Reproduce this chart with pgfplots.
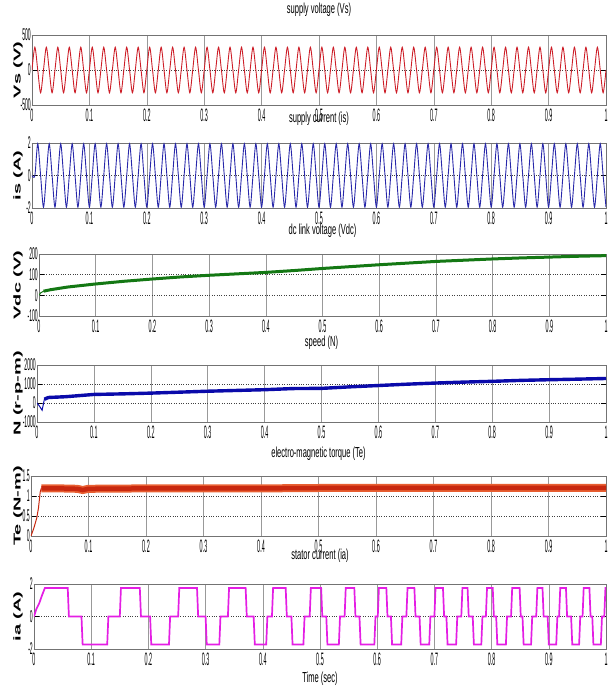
\documentclass[border=0pt]{standalone}
\usepackage{fontspec}
\setmainfont{Liberation Sans}
\newfontfamily\ticknarrow[FakeStretch=0.3]{Liberation Sans}
\newfontfamily\titlenarrow[FakeStretch=0.52]{Liberation Sans}
\newfontfamily\ylabwide[FakeStretch=2.0]{Liberation Sans}
\usepackage{pgfplots}
\pgfplotsset{compat=1.18}
\definecolor{cvolt}{RGB}{205,30,40}
\definecolor{ccurr}{RGB}{40,40,170}
\definecolor{cdc}{RGB}{20,120,20}
\definecolor{cspd}{RGB}{10,10,170}
\definecolor{ctq}{RGB}{200,40,15}
\definecolor{ctqL}{RGB}{232,95,50}
\definecolor{cia}{RGB}{228,30,228}
\pgfplotsset{
  panel/.style={
    scale only axis, xmin=0, xmax=1,
    xtick={0,0.1,0.2,0.3,0.4,0.5,0.6,0.7,0.8,0.9,1},
    xticklabels={0,0.1,0.2,0.3,0.4,0.5,0.6,0.7,0.8,0.9,1},
    xmajorgrids, ymajorgrids,
    x grid style={black!40, line width=0.6pt},
    y grid style={black!75, dotted, line width=0.7pt},
    x axis line style={black, line width=1.2pt},
    y axis line style={black!55, line width=0.5pt},
    xtick style={draw=none},
    ytick style={black, line width=0.8pt},
    major tick length=5pt, tick align=inside,
    x tick label style={font=\ticknarrow\fontsize{18}{18}\selectfont, inner sep=1pt, yshift=-3pt},
    y tick label style={font=\ticknarrow\fontsize{17}{17}\selectfont, inner sep=1pt},
    title style={at={(0.5,1)}, anchor=base, font=\titlenarrow\fontsize{14.5}{14.5}\selectfont},
    ylabel style={anchor=center, font=\ylabwide\bfseries\fontsize{10}{10}\selectfont},
  }
}
\begin{document}
\begin{tikzpicture}
\useasboundingbox (0pt,0pt) rectangle (613pt,686pt);
% ---------------- supply voltage
\begin{axis}[panel, at={(32pt,651pt)}, anchor=north west, width=574pt, height=70pt,
  ymin=-500, ymax=500, ytick={-500,0,500}, yticklabels={-500,0,500},
  title={supply voltage (Vs)}, title style={yshift=15pt},
  ylabel={Vs (V)}, ylabel style={at={(axis description cs:-0.0244,0.5)}}]
\addplot[cvolt, line width=0.9pt, smooth] coordinates {
(0,0)(0.005,325)(0.01,0)(0.015,-325)(0.02,0)(0.025,325)(0.03,0)(0.035,-325)(0.04,0)(0.045,325)(0.05,0)(0.055,-325)(0.06,0)(0.065,325)(0.07,0)(0.075,-325)(0.08,0)(0.085,325)(0.09,0)(0.095,-325)
(0.1,0)(0.105,325)(0.11,0)(0.115,-325)(0.12,0)(0.125,325)(0.13,0)(0.135,-325)(0.14,0)(0.145,325)(0.15,0)(0.155,-325)(0.16,0)(0.165,325)(0.17,0)(0.175,-325)(0.18,0)(0.185,325)(0.19,0)(0.195,-325)
(0.2,0)(0.205,325)(0.21,0)(0.215,-325)(0.22,0)(0.225,325)(0.23,0)(0.235,-325)(0.24,0)(0.245,325)(0.25,0)(0.255,-325)(0.26,0)(0.265,325)(0.27,0)(0.275,-325)(0.28,0)(0.285,325)(0.29,0)(0.295,-325)
(0.3,0)(0.305,325)(0.31,0)(0.315,-325)(0.32,0)(0.325,325)(0.33,0)(0.335,-325)(0.34,0)(0.345,325)(0.35,0)(0.355,-325)(0.36,0)(0.365,325)(0.37,0)(0.375,-325)(0.38,0)(0.385,325)(0.39,0)(0.395,-325)
(0.4,0)(0.405,325)(0.41,0)(0.415,-325)(0.42,0)(0.425,325)(0.43,0)(0.435,-325)(0.44,0)(0.445,325)(0.45,0)(0.455,-325)(0.46,0)(0.465,325)(0.47,0)(0.475,-325)(0.48,0)(0.485,325)(0.49,0)(0.495,-325)
(0.5,0)(0.505,325)(0.51,0)(0.515,-325)(0.52,0)(0.525,325)(0.53,0)(0.535,-325)(0.54,0)(0.545,325)(0.55,0)(0.555,-325)(0.56,0)(0.565,325)(0.57,0)(0.575,-325)(0.58,0)(0.585,325)(0.59,0)(0.595,-325)
(0.6,0)(0.605,325)(0.61,0)(0.615,-325)(0.62,0)(0.625,325)(0.63,0)(0.635,-325)(0.64,0)(0.645,325)(0.65,0)(0.655,-325)(0.66,0)(0.665,325)(0.67,0)(0.675,-325)(0.68,0)(0.685,325)(0.69,0)(0.695,-325)
(0.7,0)(0.705,325)(0.71,0)(0.715,-325)(0.72,0)(0.725,325)(0.73,0)(0.735,-325)(0.74,0)(0.745,325)(0.75,0)(0.755,-325)(0.76,0)(0.765,325)(0.77,0)(0.775,-325)(0.78,0)(0.785,325)(0.79,0)(0.795,-325)
(0.8,0)(0.805,325)(0.81,0)(0.815,-325)(0.82,0)(0.825,325)(0.83,0)(0.835,-325)(0.84,0)(0.845,325)(0.85,0)(0.855,-325)(0.86,0)(0.865,325)(0.87,0)(0.875,-325)(0.88,0)(0.885,325)(0.89,0)(0.895,-325)
(0.9,0)(0.905,325)(0.91,0)(0.915,-325)(0.92,0)(0.925,325)(0.93,0)(0.935,-325)(0.94,0)(0.945,325)(0.95,0)(0.955,-325)(0.96,0)(0.965,325)(0.97,0)(0.975,-325)(0.98,0)(0.985,325)(0.99,0)(0.995,-325)
(1,0)};
\end{axis}
% ---------------- supply current
\begin{axis}[panel, at={(32pt,543pt)}, anchor=north west, width=574pt, height=65pt,
  ymin=-2, ymax=2, ytick={-2,0,2}, yticklabels={-2,0,2},
  title={supply current (is)}, title style={yshift=14pt},
  ylabel={is (A)}, ylabel style={at={(axis description cs:-0.0244,0.5)}}]
\addplot[ccurr, line width=0.9pt, smooth] coordinates {
(0,0)(0.005,0)(0.01,1.95)(0.015,0)(0.02,-1.95)(0.025,0)(0.03,1.95)(0.035,0)(0.04,-1.95)(0.045,0)(0.05,1.95)(0.055,0)(0.06,-1.95)(0.065,0)(0.07,1.95)(0.075,0)(0.08,-1.95)(0.085,0)(0.09,1.95)(0.095,0)
(0.1,-1.95)(0.105,0)(0.11,1.95)(0.115,0)(0.12,-1.95)(0.125,0)(0.13,1.95)(0.135,0)(0.14,-1.95)(0.145,0)(0.15,1.95)(0.155,0)(0.16,-1.95)(0.165,0)(0.17,1.95)(0.175,0)(0.18,-1.95)(0.185,0)(0.19,1.95)(0.195,0)
(0.2,-1.95)(0.205,0)(0.21,1.95)(0.215,0)(0.22,-1.95)(0.225,0)(0.23,1.95)(0.235,0)(0.24,-1.95)(0.245,0)(0.25,1.95)(0.255,0)(0.26,-1.95)(0.265,0)(0.27,1.95)(0.275,0)(0.28,-1.95)(0.285,0)(0.29,1.95)(0.295,0)
(0.3,-1.95)(0.305,0)(0.31,1.95)(0.315,0)(0.32,-1.95)(0.325,0)(0.33,1.95)(0.335,0)(0.34,-1.95)(0.345,0)(0.35,1.95)(0.355,0)(0.36,-1.95)(0.365,0)(0.37,1.95)(0.375,0)(0.38,-1.95)(0.385,0)(0.39,1.95)(0.395,0)
(0.4,-1.95)(0.405,0)(0.41,1.95)(0.415,0)(0.42,-1.95)(0.425,0)(0.43,1.95)(0.435,0)(0.44,-1.95)(0.445,0)(0.45,1.95)(0.455,0)(0.46,-1.95)(0.465,0)(0.47,1.95)(0.475,0)(0.48,-1.95)(0.485,0)(0.49,1.95)(0.495,0)
(0.5,-1.95)(0.505,0)(0.51,1.95)(0.515,0)(0.52,-1.95)(0.525,0)(0.53,1.95)(0.535,0)(0.54,-1.95)(0.545,0)(0.55,1.95)(0.555,0)(0.56,-1.95)(0.565,0)(0.57,1.95)(0.575,0)(0.58,-1.95)(0.585,0)(0.59,1.95)(0.595,0)
(0.6,-1.95)(0.605,0)(0.61,1.95)(0.615,0)(0.62,-1.95)(0.625,0)(0.63,1.95)(0.635,0)(0.64,-1.95)(0.645,0)(0.65,1.95)(0.655,0)(0.66,-1.95)(0.665,0)(0.67,1.95)(0.675,0)(0.68,-1.95)(0.685,0)(0.69,1.95)(0.695,0)
(0.7,-1.95)(0.705,0)(0.71,1.95)(0.715,0)(0.72,-1.95)(0.725,0)(0.73,1.95)(0.735,0)(0.74,-1.95)(0.745,0)(0.75,1.95)(0.755,0)(0.76,-1.95)(0.765,0)(0.77,1.95)(0.775,0)(0.78,-1.95)(0.785,0)(0.79,1.95)(0.795,0)
(0.8,-1.95)(0.805,0)(0.81,1.95)(0.815,0)(0.82,-1.95)(0.825,0)(0.83,1.95)(0.835,0)(0.84,-1.95)(0.845,0)(0.85,1.95)(0.855,0)(0.86,-1.95)(0.865,0)(0.87,1.95)(0.875,0)(0.88,-1.95)(0.885,0)(0.89,1.95)(0.895,0)
(0.9,-1.95)(0.905,0)(0.91,1.95)(0.915,0)(0.92,-1.95)(0.925,0)(0.93,1.95)(0.935,0)(0.94,-1.95)(0.945,0)(0.95,1.95)(0.955,0)(0.96,-1.95)(0.965,0)(0.97,1.95)(0.975,0)(0.98,-1.95)(0.985,0)(0.99,1.95)(0.995,0)
(1,-1.95)};
\end{axis}
% ---------------- dc link voltage
\begin{axis}[panel, at={(39pt,432pt)}, anchor=north west, width=567pt, height=62pt,
  ymin=-100, ymax=200, ytick={-100,0,100,200}, yticklabels={-100,0,100,200},
  title={dc link voltage (Vdc)}, title style={yshift=13pt},
  ylabel={Vdc (V)}, ylabel style={at={(axis description cs:-0.037,0.5)}}]
\addplot[cdc, line width=1pt] coordinates {(0,0)(0.003,12)(0.008,20)(0.015,25)};
\addplot[cdc, line width=3pt] coordinates {
(0.008,20)(0.02,27)(0.05,40)(0.1,55)(0.15,68)(0.2,79)(0.25,89)(0.3,97)(0.35,104)(0.4,111)(0.45,120)(0.5,130)
(0.55,139)(0.6,148)(0.65,156)(0.7,164)(0.75,170)(0.8,176)(0.85,181)(0.9,185)(0.95,189)(1,192)};
\end{axis}
% ---------------- speed
\begin{axis}[panel, at={(37pt,321pt)}, anchor=north west, width=569pt, height=57pt,
  ymin=-1000, ymax=2000, ytick={-1000,0,1000,2000}, yticklabels={-1000,0,1000,2000},
  title={speed (N)}, title style={yshift=12pt},
  ylabel={N (r-p-m)}, ylabel style={at={(axis description cs:-0.0334,0.5)}}]
\addplot[cspd, line width=1pt] coordinates {(0,0)(0.004,-150)(0.009,-380)(0.013,200)(0.02,290)};
\addplot[cspd, line width=3.4pt] coordinates {
(0.013,200)(0.02,290)(0.05,330)(0.1,450)(0.15,480)(0.2,520)(0.25,570)(0.3,620)(0.35,660)(0.4,700)(0.45,760)(0.5,770)
(0.55,850)(0.6,920)(0.65,990)(0.7,1050)(0.75,1100)(0.8,1140)(0.85,1190)(0.9,1225)(0.95,1255)(1,1290)};
\end{axis}
% ---------------- torque
\begin{axis}[panel, at={(31pt,210pt)}, anchor=north west, width=575pt, height=60pt,
  ymin=0, ymax=1.5, ytick={0,0.5,1,1.5}, yticklabels={0,0.5,1,1.5},
  title={electro-magnetic torque (Te)}, title style={yshift=12pt},
  ylabel={Te (N-m)}, ylabel style={at={(axis description cs:-0.0226,0.5)}}]
\addplot[ctq, line width=1pt] coordinates {(0,0)(0.005,0.2)(0.01,0.45)(0.013,0.7)(0.016,1.1)(0.018,1.2)};
\addplot[ctqL, line width=8pt] coordinates {
(0.018,1.19)(0.05,1.19)(0.08,1.18)(0.09,1.15)(0.1,1.18)(0.2,1.19)(0.3,1.19)(0.4,1.19)(0.5,1.2)(0.6,1.2)(0.7,1.2)(0.8,1.2)(0.9,1.2)(1,1.2)};
\addplot[ctq, line width=4.5pt] coordinates {
(0.018,1.19)(0.05,1.19)(0.08,1.18)(0.09,1.15)(0.1,1.18)(0.2,1.19)(0.3,1.19)(0.4,1.19)(0.5,1.2)(0.6,1.2)(0.7,1.2)(0.8,1.2)(0.9,1.2)(1,1.2)};
\end{axis}
% ---------------- stator current
\begin{axis}[panel, at={(34pt,102pt)}, anchor=north west, width=572pt, height=65pt,
  ymin=-2, ymax=2, ytick={-2,0,2}, yticklabels={-2,0,2},
  title={stator current (ia)}, title style={yshift=18pt},
  ylabel={ia (A)}, ylabel style={at={(axis description cs:-0.028,0.5)}},
  xlabel={Time (sec)}, xlabel style={at={(axis description cs:0.5,0)}, anchor=base, yshift=-33pt, font=\titlenarrow\fontsize{14.5}{14.5}\selectfont}]
\addplot[cia, line width=1.7pt] coordinates {
(0,0)(0.004,0.45)(0.009,0.8)(0.014,1.3)(0.019,1.75)
(0.059,1.75)(0.061,0)(0.083,0)(0.085,-1.72)(0.128,-1.72)(0.130,0)(0.150,0)(0.152,1.75)(0.185,1.75)(0.187,0)(0.203,0)(0.205,-1.72)(0.236,-1.72)(0.238,0)(0.252,0)(0.254,1.75)(0.285,1.75)(0.287,0)(0.300,0)(0.302,-1.72)(0.324,-1.72)(0.326,0)(0.339,0)(0.341,1.75)(0.370,1.75)(0.372,0)(0.384,0)(0.386,-1.72)(0.406,-1.72)(0.408,0)(0.416,0)(0.418,1.75)(0.440,1.75)(0.442,0)(0.450,0)(0.452,-1.72)(0.471,-1.72)(0.473,0)(0.482,0)(0.484,1.75)(0.502,1.75)(0.504,0)(0.511,0)(0.513,-1.72)(0.533,-1.72)(0.535,0)(0.543,0)(0.545,1.75)(0.560,1.75)(0.562,0)(0.569,0)(0.571,-1.72)(0.595,-1.72)(0.597,0)(0.601,0)(0.603,1.75)(0.616,1.75)(0.618,0)(0.624,0)(0.626,-1.72)(0.642,-1.72)(0.644,0)(0.651,0)(0.653,1.75)(0.665,1.75)(0.667,0)(0.674,0)(0.676,-1.72)(0.691,-1.72)(0.693,0)(0.700,0)(0.702,1.75)(0.715,1.75)(0.717,0)(0.721,0)(0.723,-1.72)(0.738,-1.72)(0.740,0)(0.747,0)(0.749,1.75)(0.758,1.75)(0.760,0)(0.767,0)(0.769,-1.72)(0.782,-1.72)(0.784,0)(0.790,0)(0.792,1.75)(0.802,1.75)(0.804,0)(0.808,0)(0.810,-1.72)(0.825,-1.72)(0.827,0)(0.834,0)(0.836,1.75)(0.849,1.75)(0.851,0)(0.854,0)(0.856,-1.72)(0.869,-1.72)(0.871,0)(0.878,0)(0.880,1.75)(0.889,1.75)(0.891,0)(0.898,0)(0.900,-1.72)(0.913,-1.72)(0.915,0)(0.918,0)(0.920,1.75)(0.930,1.75)(0.932,0)(0.939,0)(0.941,-1.72)(0.953,-1.72)(0.955,0)(0.959,0)(0.961,1.75)(0.971,1.75)(0.973,0)(0.976,0)(0.978,-1.72)(0.991,-1.72)(0.993,0)(0.997,0)(0.999,1.75)(1,1.75)};
\end{axis}
\end{tikzpicture}
\end{document}
